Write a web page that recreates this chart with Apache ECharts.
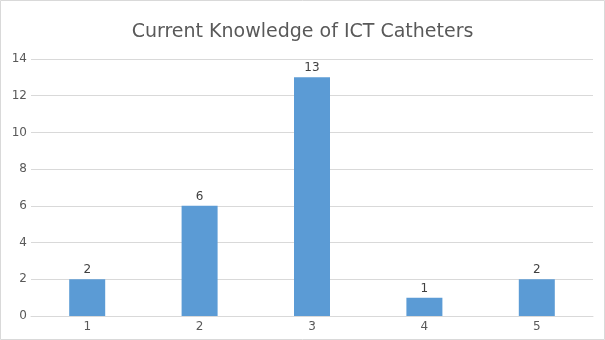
<!DOCTYPE html>
<html><head><meta charset="utf-8">
<script src="https://cdn.jsdelivr.net/npm/echarts@6/dist/echarts.min.js"></script>
<style>html,body{margin:0;padding:0;background:#fff}#c{width:605px;height:340px}</style>
</head><body><div id="c"></div>
<script>
const categories = ['1','2','3','4','5'];
const values = [2, 6, 13, 1, 2];
const chartTitle = 'Current Knowledge of ICT Catheters';
const chart = echarts.init(document.getElementById('c'), null, {renderer:'canvas'});
chart.setOption({
  animation:false,
  backgroundColor:'#fff',
  textStyle:{fontFamily:'DejaVu Sans'},
  title:{text:chartTitle,left:'center',top:18,textStyle:{fontFamily:'DejaVu Sans',fontSize:19,fontWeight:'normal',color:'#595959'}},
  graphic:[{type:'rect',shape:{x:0.5,y:0.5,width:604,height:339},style:{fill:'none',stroke:'#d9d9d9',lineWidth:1},silent:true}],
  grid:{left:31,right:12,top:59,bottom:24,containLabel:false},
  xAxis:{type:'category',data:categories,axisTick:{show:false},axisLine:{lineStyle:{color:'#d9d9d9'}},
    axisLabel:{color:'#595959',fontSize:12,margin:5}},
  yAxis:{type:'value',min:0,max:14,interval:2,axisLine:{show:false},axisTick:{show:false},
    splitLine:{lineStyle:{color:'#d9d9d9'}},axisLabel:{color:'#595959',fontSize:12,margin:4}},
  series:[{type:'bar',data:values,barWidth:36,itemStyle:{color:'#5b9bd5'},
    label:{show:true,position:'top',color:'#404040',fontSize:12,distance:3}}]
});
</script></body></html>
